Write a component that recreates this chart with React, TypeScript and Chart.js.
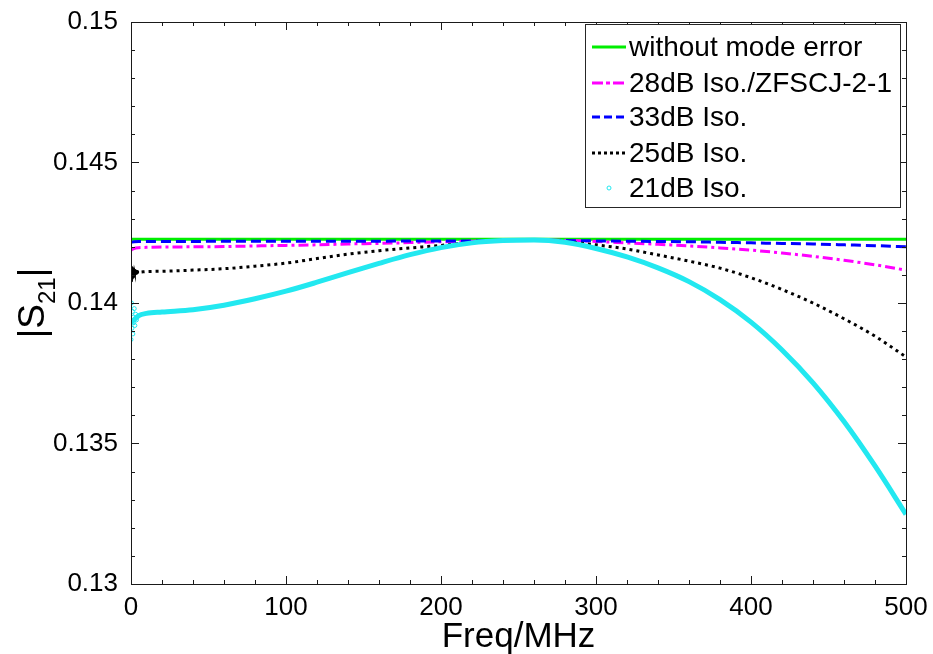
import { useEffect, useRef } from 'react';
import { Chart, registerables } from 'chart.js';

Chart.register(...registerables);

const FONT = '"Liberation Sans", Arial, Helvetica, sans-serif';

const freqMHz = [0, 2, 5, 10, 20, 40, 60, 80, 100, 120, 140, 160, 180, 200, 220, 240, 260, 280, 300, 320, 340, 360, 380, 400, 420, 440, 460, 480, 500];

const withoutModeError = [0.14227, 0.14227, 0.14227, 0.14227, 0.14227, 0.14227, 0.14227, 0.14227, 0.14227, 0.14227, 0.14227, 0.14227, 0.14227, 0.14227, 0.14227, 0.14227, 0.14227, 0.14227, 0.14227, 0.14227, 0.14227, 0.14227, 0.14227, 0.14227, 0.14227, 0.14227, 0.14227, 0.14227, 0.14227];

const iso28dB = [0.14188, 0.14194, 0.14197, 0.14198, 0.14199, 0.142, 0.14201, 0.14203, 0.14205, 0.14207, 0.1421, 0.14212, 0.14215, 0.14218, 0.1422, 0.14223, 0.14224, 0.14223, 0.14219, 0.14214, 0.14209, 0.14203, 0.14196, 0.14188, 0.14178, 0.14166, 0.14152, 0.14136, 0.14117];

const iso33dB = [0.14216, 0.14218, 0.14219, 0.14219, 0.14219, 0.14219, 0.1422, 0.1422, 0.1422, 0.1422, 0.1422, 0.1422, 0.14221, 0.14221, 0.14221, 0.14222, 0.14222, 0.14222, 0.14221, 0.1422, 0.14219, 0.14218, 0.14216, 0.14214, 0.14212, 0.1421, 0.14207, 0.14204, 0.142];

const iso25dB = [0.1409, 0.1411, 0.1411, 0.14112, 0.14113, 0.14117, 0.14122, 0.14131, 0.14142, 0.14158, 0.14174, 0.14186, 0.14196, 0.14205, 0.14215, 0.14222, 0.14224, 0.14218, 0.14207, 0.14192, 0.14171, 0.14149, 0.14124, 0.1409, 0.14048, 0.14, 0.13944, 0.13882, 0.13808];

const iso21dB = [0.1393, 0.1394, 0.13955, 0.13963, 0.13968, 0.13976, 0.13992, 0.14015, 0.14042, 0.14074, 0.14108, 0.14141, 0.14172, 0.14197, 0.14214, 0.14222, 0.14224, 0.14216, 0.14194, 0.14164, 0.14125, 0.14076, 0.14012, 0.13932, 0.13833, 0.13716, 0.13578, 0.1342, 0.13248];

// noisy samples at the very start of the sweep
const startNoiseFreq = [0, 0.3, 0.6, 0.9, 1.2, 1.5, 1.8, 2.1, 2.5, 3, 3.5, 4];
const iso21dBStartNoise = [0.1387, 0.14, 0.1391, 0.1397, 0.1389, 0.1395, 0.1393, 0.1398, 0.1392, 0.1396, 0.1394, 0.1395];
const iso25dBStartNoise = [0.1408, 0.14125, 0.1409, 0.1412, 0.14095, 0.14118, 0.141, 0.14115, 0.14105, 0.14112, 0.14108, 0.1411];

const xMajorTicks = [0, 100, 200, 300, 400, 500];
const yMajorTicks = [0.13, 0.135, 0.14, 0.145, 0.15];

const seriesNames = ['without mode error', '28dB Iso./ZFSCJ-2-1', '33dB Iso.', '25dB Iso.', '21dB Iso.'];

const GREEN = '#00ee00';
const MAGENTA = '#ff00ff';
const BLUE = '#0000ff';
const BLACK = '#000000';
const CYAN = '#22e8f0';

const toPts = (xs: number[], ys: number[]) => xs.map((x, i) => ({ x, y: ys[i] }));

const axesPlugin = {
  id: 'matlabAxes',
  afterDatasetsDraw(chart: any) {
    const { ctx, chartArea, scales } = chart;
    const { left, right, top, bottom } = chartArea;
    const xs = scales.x;
    const ys = scales.y;
    ctx.save();
    ctx.setLineDash([]);
    ctx.strokeStyle = '#1a1a1a';
    ctx.lineWidth = 1;
    ctx.beginPath();
    for (let v = 0; v <= 500; v += 20) {
      const px = Math.round(xs.getPixelForValue(v)) + 0.5;
      const len = v % 100 === 0 ? 8 : 4;
      ctx.moveTo(px, bottom);
      ctx.lineTo(px, bottom - len);
      ctx.moveTo(px, top);
      ctx.lineTo(px, top + len);
    }
    for (let k = 0; k <= 20; k++) {
      const v = 0.13 + k * 0.001;
      const py = Math.round(ys.getPixelForValue(v)) + 0.5;
      const len = k % 5 === 0 ? 8 : 4;
      ctx.moveTo(left, py);
      ctx.lineTo(left + len, py);
      ctx.moveTo(right, py);
      ctx.lineTo(right - len, py);
    }
    ctx.stroke();
    ctx.strokeRect(Math.round(left) + 0.5, Math.round(top) + 0.5, Math.round(right - left), Math.round(bottom - top));
    ctx.restore();
  },
  afterDraw(chart: any) {
    const { ctx, chartArea } = chart;
    ctx.save();
    ctx.fillStyle = '#000';
    ctx.font = `35px ${FONT}`;
    ctx.textAlign = 'center';
    ctx.textBaseline = 'alphabetic';
    ctx.fillText('Freq/MHz', (chartArea.left + chartArea.right) / 2, 647);
    ctx.translate(44, (chartArea.top + chartArea.bottom) / 2);
    ctx.rotate(-Math.PI / 2);
    ctx.textAlign = 'left';
    const bigFont = `37px ${FONT}`;
    const subFont = `24px ${FONT}`;
    ctx.font = bigFont;
    const wBar = ctx.measureText('|').width;
    const wS = ctx.measureText('S').width;
    ctx.font = subFont;
    const wSub = ctx.measureText('21').width;
    const total = wBar * 2 + wS + wSub;
    let x = -total / 2;
    ctx.font = bigFont;
    ctx.fillText('|', x, 0);
    x += wBar;
    ctx.fillText('S', x, 0);
    x += wS;
    ctx.font = subFont;
    ctx.fillText('21', x, 11);
    x += wSub;
    ctx.font = bigFont;
    ctx.fillText('|', x, 0);
    ctx.restore();

    // legend
    ctx.save();
    const bx = 585.5, by = 24.5, bw = 315, bh = 183;
    ctx.fillStyle = '#fff';
    ctx.fillRect(bx, by, bw, bh);
    ctx.strokeStyle = '#262626';
    ctx.lineWidth = 1;
    ctx.strokeRect(bx, by, bw, bh);
    const rowY = [47, 83, 117, 153, 188];
    const datasets = chart.data.datasets;
    ctx.font = `28px ${FONT}`;
    ctx.textBaseline = 'middle';
    ctx.textAlign = 'left';
    for (let i = 0; i < 5; i++) {
      const ds = datasets[i];
      const y = rowY[i];
      if (i === 4) {
        ctx.beginPath();
        ctx.setLineDash([]);
        ctx.lineWidth = 1;
        ctx.strokeStyle = ds.borderColor;
        ctx.arc(609, y, 2, 0, Math.PI * 2);
        ctx.stroke();
      } else {
        ctx.beginPath();
        ctx.setLineDash(ds.legendDash || []);
        ctx.lineWidth = 3;
        ctx.strokeStyle = ds.borderColor;
        ctx.moveTo(592, y);
        ctx.lineTo(626, y);
        ctx.stroke();
      }
      ctx.setLineDash([]);
      ctx.fillStyle = '#000';
      ctx.fillText(ds.label, 629, y + 1);
    }
    ctx.restore();
  },
};

export default function App() {
  const ref = useRef<HTMLCanvasElement | null>(null);
  useEffect(() => {
    if (!ref.current) return;
    Chart.defaults.font.family = FONT;
    const chart = new Chart(ref.current, {
      type: 'line',
      data: {
        datasets: [
          {
            label: seriesNames[0],
            data: toPts(freqMHz, withoutModeError),
            borderColor: GREEN,
            borderWidth: 3,
            pointRadius: 0,
            order: 5,
          },
          {
            label: seriesNames[1],
            data: toPts(freqMHz, iso28dB),
            borderColor: MAGENTA,
            borderWidth: 3,
            borderDash: [10, 4, 3, 4],
            legendDash: [11, 3, 4, 3],
            pointRadius: 0,
            cubicInterpolationMode: 'monotone',
            order: 4,
          },
          {
            label: seriesNames[2],
            data: toPts(freqMHz, iso33dB),
            borderColor: BLUE,
            borderWidth: 3,
            borderDash: [10, 5],
            legendDash: [8, 4],
            pointRadius: 0,
            cubicInterpolationMode: 'monotone',
            order: 3,
          },
          {
            label: seriesNames[3],
            data: toPts(freqMHz, iso25dB),
            borderColor: BLACK,
            borderWidth: 3,
            borderDash: [3, 4],
            legendDash: [3, 3],
            pointRadius: 0,
            cubicInterpolationMode: 'monotone',
            order: 2,
          },
          {
            label: seriesNames[4],
            data: toPts(freqMHz, iso21dB),
            borderColor: CYAN,
            borderWidth: 5,
            pointRadius: 0,
            cubicInterpolationMode: 'monotone',
            order: 1,
          },
          {
            label: '21dB start',
            data: toPts(startNoiseFreq, iso21dBStartNoise),
            borderColor: CYAN,
            backgroundColor: 'rgba(0,0,0,0)',
            showLine: false,
            pointRadius: 2,
            pointBorderWidth: 1,
            order: 0,
          },
          {
            label: '25dB start',
            data: toPts(startNoiseFreq, iso25dBStartNoise),
            borderColor: BLACK,
            backgroundColor: BLACK,
            borderWidth: 2,
            pointRadius: 1,
            order: 0,
          },
        ] as any,
      },
      plugins: [axesPlugin],
      options: {
        responsive: false,
        animation: false,
        events: [],
        layout: { padding: { top: 22, right: 27, left: 0, bottom: 0 } },
        plugins: {
          legend: { display: false },
          tooltip: { enabled: false },
        },
        scales: {
          x: {
            type: 'linear',
            min: 0,
            max: 500,
            afterFit: (s: any) => { s.height = 70; },
            afterBuildTicks: (s: any) => { s.ticks = xMajorTicks.map((v) => ({ value: v })); },
            ticks: {
              color: '#000',
              font: { size: 26, family: FONT },
              padding: 0,
              maxRotation: 0,
              callback: (v: any) => String(v),
            },
            grid: { display: false },
            border: { display: false },
          },
          y: {
            type: 'linear',
            min: 0.13,
            max: 0.15,
            afterFit: (s: any) => { s.width = 131; },
            afterBuildTicks: (s: any) => { s.ticks = yMajorTicks.map((v) => ({ value: v })); },
            ticks: {
              color: '#000',
              font: { size: 26, family: FONT },
              padding: 5,
              callback: (v: any) => String(parseFloat(Number(v).toFixed(3))),
            },
            grid: { display: false },
            border: { display: false },
          },
        },
      } as any,
    });
    return () => chart.destroy();
  }, []);
  return (
    <div style={{ position: 'absolute', left: 0, top: 0, width: 933, height: 654, background: '#fff' }}>
      <canvas ref={ref} width={933} height={654} style={{ display: 'block' }} />
    </div>
  );
}
